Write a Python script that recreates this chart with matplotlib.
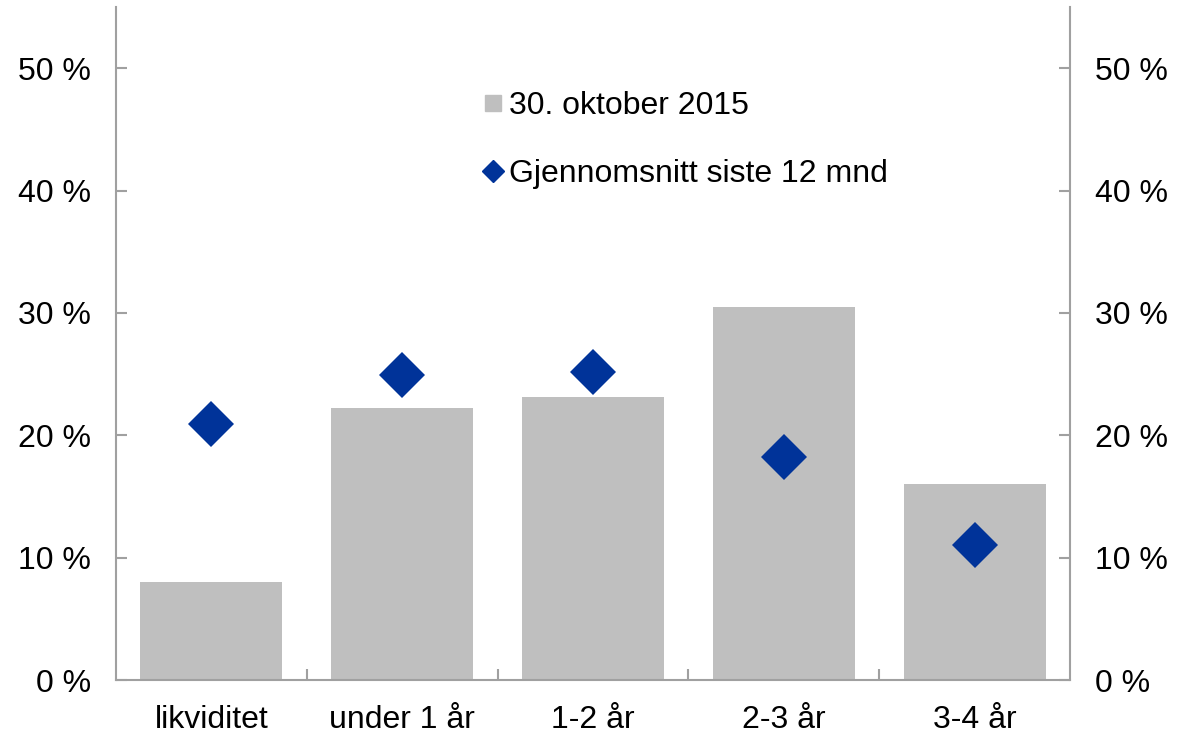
import matplotlib
matplotlib.use("Agg")
import matplotlib.pyplot as plt
from matplotlib.lines import Line2D

plt.rcParams['font.family'] = ['Liberation Sans', 'DejaVu Sans']

# Data
kategorier = ["likviditet", "under 1 år", "1-2 år", "2-3 år", "3-4 år"]
okt_2015 = [8.0, 22.2, 23.1, 30.5, 16.0]
snitt_12_mnd = [20.9, 24.9, 25.2, 18.2, 11.0]
y_ticks = [0, 10, 20, 30, 40, 50]

GRA = "#bfbfbf"
BLA = "#003399"
SPINE = "#a0a0a0"

fig = plt.figure(figsize=(11.77, 7.34), dpi=100)
ax = fig.add_axes([116 / 1177, 1 - 680 / 734, 954 / 1177, 673 / 734])

x = list(range(len(kategorier)))
ax.bar(x, okt_2015, width=0.745, color=GRA, zorder=2)
ax.plot(x, snitt_12_mnd, linestyle="none", marker="D", markersize=23,
        color=BLA, markeredgewidth=0, zorder=3)

ax.set_xlim(-0.5, len(kategorier) - 0.5)
ax.set_ylim(0, 55)

for side in ["left", "right", "bottom"]:
    ax.spines[side].set_color(SPINE)
    ax.spines[side].set_linewidth(1.5)
ax.spines["top"].set_visible(False)

ax.set_yticks(y_ticks)
ax.set_yticklabels([f"{v} %" for v in y_ticks])
ax.tick_params(axis="y", direction="in", length=8, width=1.5, color=SPINE,
               left=True, right=True, labelleft=True, labelright=True,
               labelsize=23, pad=18)

# category boundaries as ticks, labels at category centres
ax.set_xticks([i + 0.5 for i in x[:-1]])
ax.set_xticklabels([])
ax.set_xticks(x, minor=True)
ax.set_xticklabels(kategorier, minor=True)
ax.tick_params(axis="x", which="major", direction="in", length=8, width=1.5, color=SPINE)
ax.tick_params(axis="x", which="minor", length=0, labelsize=23, pad=18)

handles = [
    Line2D([], [], linestyle="none", marker="s", markersize=12, color=GRA),
    Line2D([], [], linestyle="none", marker="D", markersize=11, color=BLA),
]
ax.legend(handles, ["30. oktober 2015", "Gjennomsnitt siste 12 mnd"],
          loc="upper left", bbox_to_anchor=(0.355, 0.918), frameon=False,
          fontsize=23, handlelength=0.6, handletextpad=0.2, labelspacing=1.2)

fig.savefig("out.png", dpi=100)
